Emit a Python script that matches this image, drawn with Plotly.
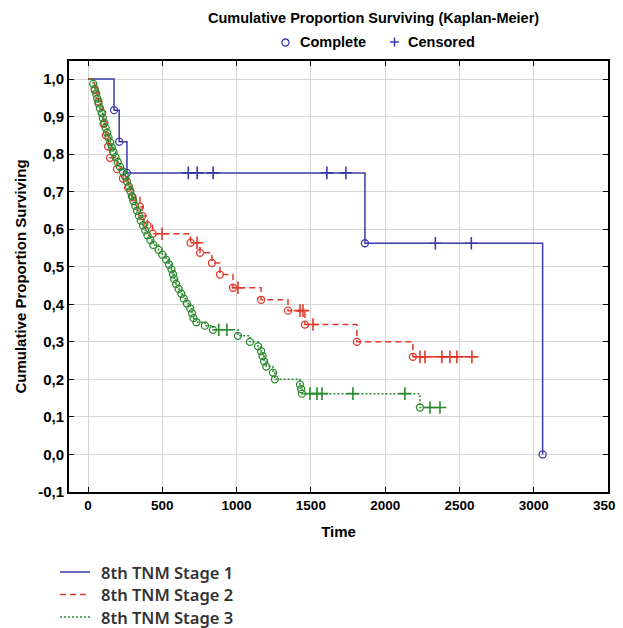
import plotly.graph_objects as go

# ---------------- data ----------------
x_tick_vals = [0, 500, 1000, 1500, 2000, 2500, 3000, 3500]
x_tick_text = ["0", "500", "1000", "1500", "2000", "2500", "3000", "3500"]
y_tick_vals = [-0.1, 0.0, 0.1, 0.2, 0.3, 0.4, 0.5, 0.6, 0.7, 0.8, 0.9, 1.0]
y_tick_text = ["-0,1", "0,0", "0,1", "0,2", "0,3", "0,4", "0,5", "0,6", "0,7", "0,8", "0,9", "1,0"]

series_names = ["8th TNM Stage 1", "8th TNM Stage 2", "8th TNM Stage 3"]
marker_legend = ["Complete", "Censored"]

# Stage 1
s1_event_t = [175, 210, 262, 1864, 3060]
s1_event_s = [0.917, 0.833, 0.750, 0.5625, 0.0]
s1_cens_t = [675, 735, 842, 1608, 1736, 2338, 2580]
s1_cens_s = [0.75, 0.75, 0.75, 0.75, 0.75, 0.5625, 0.5625]

# Stage 2
s2_event_t = [45, 70, 95, 105, 120, 135, 148, 195, 235, 270, 300, 350, 365, 400, 435,
              690, 754, 834, 888, 976, 1165, 1346, 1460, 1810, 2187]
s2_event_s = [0.97, 0.94, 0.91, 0.88, 0.85, 0.82, 0.79, 0.76, 0.735, 0.71, 0.685, 0.66, 0.635, 0.61, 0.588,
              0.564, 0.537, 0.51, 0.479, 0.444, 0.412, 0.383, 0.346, 0.30, 0.26]
s2_cens_t = [498, 734, 1009, 1427, 1447, 1514, 2234, 2268, 2382, 2436, 2483, 2584]
s2_cens_s = [0.588, 0.564, 0.444, 0.383, 0.383, 0.346, 0.26, 0.26, 0.26, 0.26, 0.26, 0.26]

# Stage 3
s3_event_t = [35, 45, 55, 62, 70, 80, 92, 100, 110, 118, 128, 138, 150, 160, 172, 185, 200, 215,
              235, 250, 262, 275, 285, 295, 305, 318, 330, 342, 355, 370, 385, 400, 420, 440,
              475, 500, 525, 545, 562, 572, 580, 592, 610, 628, 645, 665, 688, 700, 710, 730,
              787, 841, 1009, 1090, 1144, 1165, 1175, 1185, 1200, 1245, 1258, 1427, 1435, 1440, 2234]
s3_event_s = [0.987, 0.974, 0.961, 0.948, 0.935, 0.922, 0.909, 0.896, 0.883, 0.870, 0.857, 0.844,
              0.831, 0.818, 0.805, 0.792, 0.779, 0.766, 0.753, 0.740, 0.727, 0.714, 0.701, 0.688,
              0.675, 0.662, 0.649, 0.636, 0.623, 0.610, 0.597, 0.584, 0.571, 0.558, 0.545, 0.532,
              0.519, 0.506, 0.493, 0.480, 0.467, 0.454, 0.441, 0.428, 0.415, 0.402, 0.389, 0.376,
              0.363, 0.352, 0.343, 0.332, 0.316, 0.300, 0.288, 0.275, 0.262, 0.248, 0.234, 0.218,
              0.200, 0.186, 0.174, 0.162, 0.125]
s3_cens_t = [880, 935, 1494, 1541, 1575, 1783, 2133, 2302, 2369]
s3_cens_s = [0.332, 0.332, 0.162, 0.162, 0.162, 0.162, 0.162, 0.125, 0.125]

# ---------------- style ----------------
colors = ["#3b3ba6", "#e2382c", "#2b8a2e"]
dashes = ["solid", "6px,4px", "2px,2px"]
FONT_N = "Liberation Sans Narrow, Arial Narrow, Liberation Sans, Arial, sans-serif"
FONT_L = "Noto Sans, Open Sans, sans-serif"

# the page body has an 8px margin, so the figure is sized to fill the rest of the window
OFF = 8
W_FIG, H_FIG = 623 - OFF, 628 - OFF
# plot area in page pixels: left 69, right 608, top 61, bottom 492
ML, MT = 69 - OFF, 61 - OFF
MR, MB = W_FIG - (608 - OFF), H_FIG - (492 - OFF)
PW, PH = W_FIG - ML - MR, H_FIG - MT - MB
X_RANGE = [-128, 3500]
Y_RANGE = [-0.1, 1.048]


def px2paper(px, py):
    """page pixel -> paper coordinates"""
    fx, fy = px - OFF, py - OFF
    return (fx - ML) / PW, (H_FIG - MB - fy) / PH


def step_path(et, es, ct, cs):
    pts = sorted(list(zip(et, es)) + list(zip(ct, cs)), key=lambda p: p[0])
    xs = [0] + [p[0] for p in pts]
    ys = [1.0] + [p[1] for p in pts]
    return xs, ys


fig = go.Figure()
data = [
    (s1_event_t, s1_event_s, s1_cens_t, s1_cens_s),
    (s2_event_t, s2_event_s, s2_cens_t, s2_cens_s),
    (s3_event_t, s3_event_s, s3_cens_t, s3_cens_s),
]
for i, (et, es, ct, cs) in enumerate(data):
    xs, ys = step_path(et, es, ct, cs)
    fig.add_trace(go.Scatter(x=xs, y=ys, mode="lines", line_shape="hv",
                             line=dict(color=colors[i], width=1.5, dash=dashes[i]),
                             name=series_names[i], showlegend=False))
for i, (et, es, ct, cs) in enumerate(data):
    fig.add_trace(go.Scatter(x=et, y=es, mode="markers", showlegend=False,
                             marker=dict(symbol="circle-open", size=7, color=colors[i],
                                         line=dict(width=1.3, color=colors[i]))))
    fig.add_trace(go.Scatter(x=ct, y=cs, mode="markers", showlegend=False,
                             marker=dict(symbol="cross-thin", size=9, color=colors[i],
                                         line=dict(width=1.6, color=colors[i]))))

ann = []
shapes = []
TXT = dict(family=FONT_N, size=15, color="black", weight="bold")

# top marker key (Complete / Censored)
cx0, cy0 = px2paper(282, 39)
cx1, cy1 = px2paper(289, 46)
shapes.append(dict(type="circle", xref="paper", yref="paper", x0=cx0, x1=cx1, y0=cy0, y1=cy1,
                   line=dict(color=colors[0], width=1.3)))
a0, b0 = px2paper(390, 42)
a1, _ = px2paper(399, 42)
shapes.append(dict(type="line", xref="paper", yref="paper", x0=a0, x1=a1, y0=b0, y1=b0,
                   line=dict(color=colors[0], width=1.5)))
a, b0 = px2paper(394.5, 37.5)
_, b1 = px2paper(394.5, 46.5)
shapes.append(dict(type="line", xref="paper", yref="paper", x0=a, x1=a, y0=b0, y1=b1,
                   line=dict(color=colors[0], width=1.5)))
ax, ay = px2paper(298, 42)
ann.append(dict(text=marker_legend[0], x=ax, y=ay, xref="paper", yref="paper", showarrow=False,
                font=dict(TXT, size=14.5), xanchor="left", yanchor="middle"))
ax, ay = px2paper(406, 42)
ann.append(dict(text=marker_legend[1], x=ax, y=ay, xref="paper", yref="paper", showarrow=False,
                font=dict(TXT, size=14.5), xanchor="left", yanchor="middle"))

# bottom series key
for i, name in enumerate(series_names):
    ly = 572 + i * 22.5
    x0, y0 = px2paper(60, ly)
    x1, _ = px2paper(90, ly)
    shapes.append(dict(type="line", xref="paper", yref="paper", x0=x0, x1=x1, y0=y0, y1=y0,
                       line=dict(color=colors[i], width=1.5, dash=dashes[i])))
    tx, ty = px2paper(99, ly)
    ann.append(dict(text=name, x=tx, y=ty, xref="paper", yref="paper", showarrow=False,
                    font=dict(family=FONT_L, size=16.5, color="#333333", weight=600),
                    xanchor="left", yanchor="middle"))

axis_common = dict(showgrid=True, gridcolor="#d6d6d6", gridwidth=1, zeroline=False,
                   showline=True, linecolor="black", linewidth=1.8, mirror="ticks",
                   ticks="inside", ticklen=5, tickcolor="black", tickwidth=1, automargin=False,
                   ticklabeloverflow="allow")

tx, ty = px2paper(373, 18)
fig.update_layout(
    width=W_FIG, height=H_FIG,
    margin=dict(l=ML, r=MR, t=MT, b=MB, autoexpand=False),
    paper_bgcolor="white", plot_bgcolor="white",
    showlegend=False,
    xaxis=dict(range=X_RANGE, tickvals=x_tick_vals, ticktext=x_tick_text,
               tickfont=dict(TXT, size=13.5),
               title=dict(text="Time", standoff=14, font=TXT),
               **axis_common),
    yaxis=dict(range=Y_RANGE, tickvals=y_tick_vals, ticktext=y_tick_text,
               tickfont=TXT,
               title=dict(text="Cumulative Proportion Surviving", standoff=8, font=TXT),
               **axis_common),
    annotations=ann + [dict(text="Cumulative Proportion Surviving (Kaplan-Meier)", x=tx, y=ty,
                            xref="paper", yref="paper", showarrow=False, xanchor="center",
                            yanchor="middle", font=dict(TXT, size=14.5))],
    shapes=shapes,
)

fig.write_html("out.html")
